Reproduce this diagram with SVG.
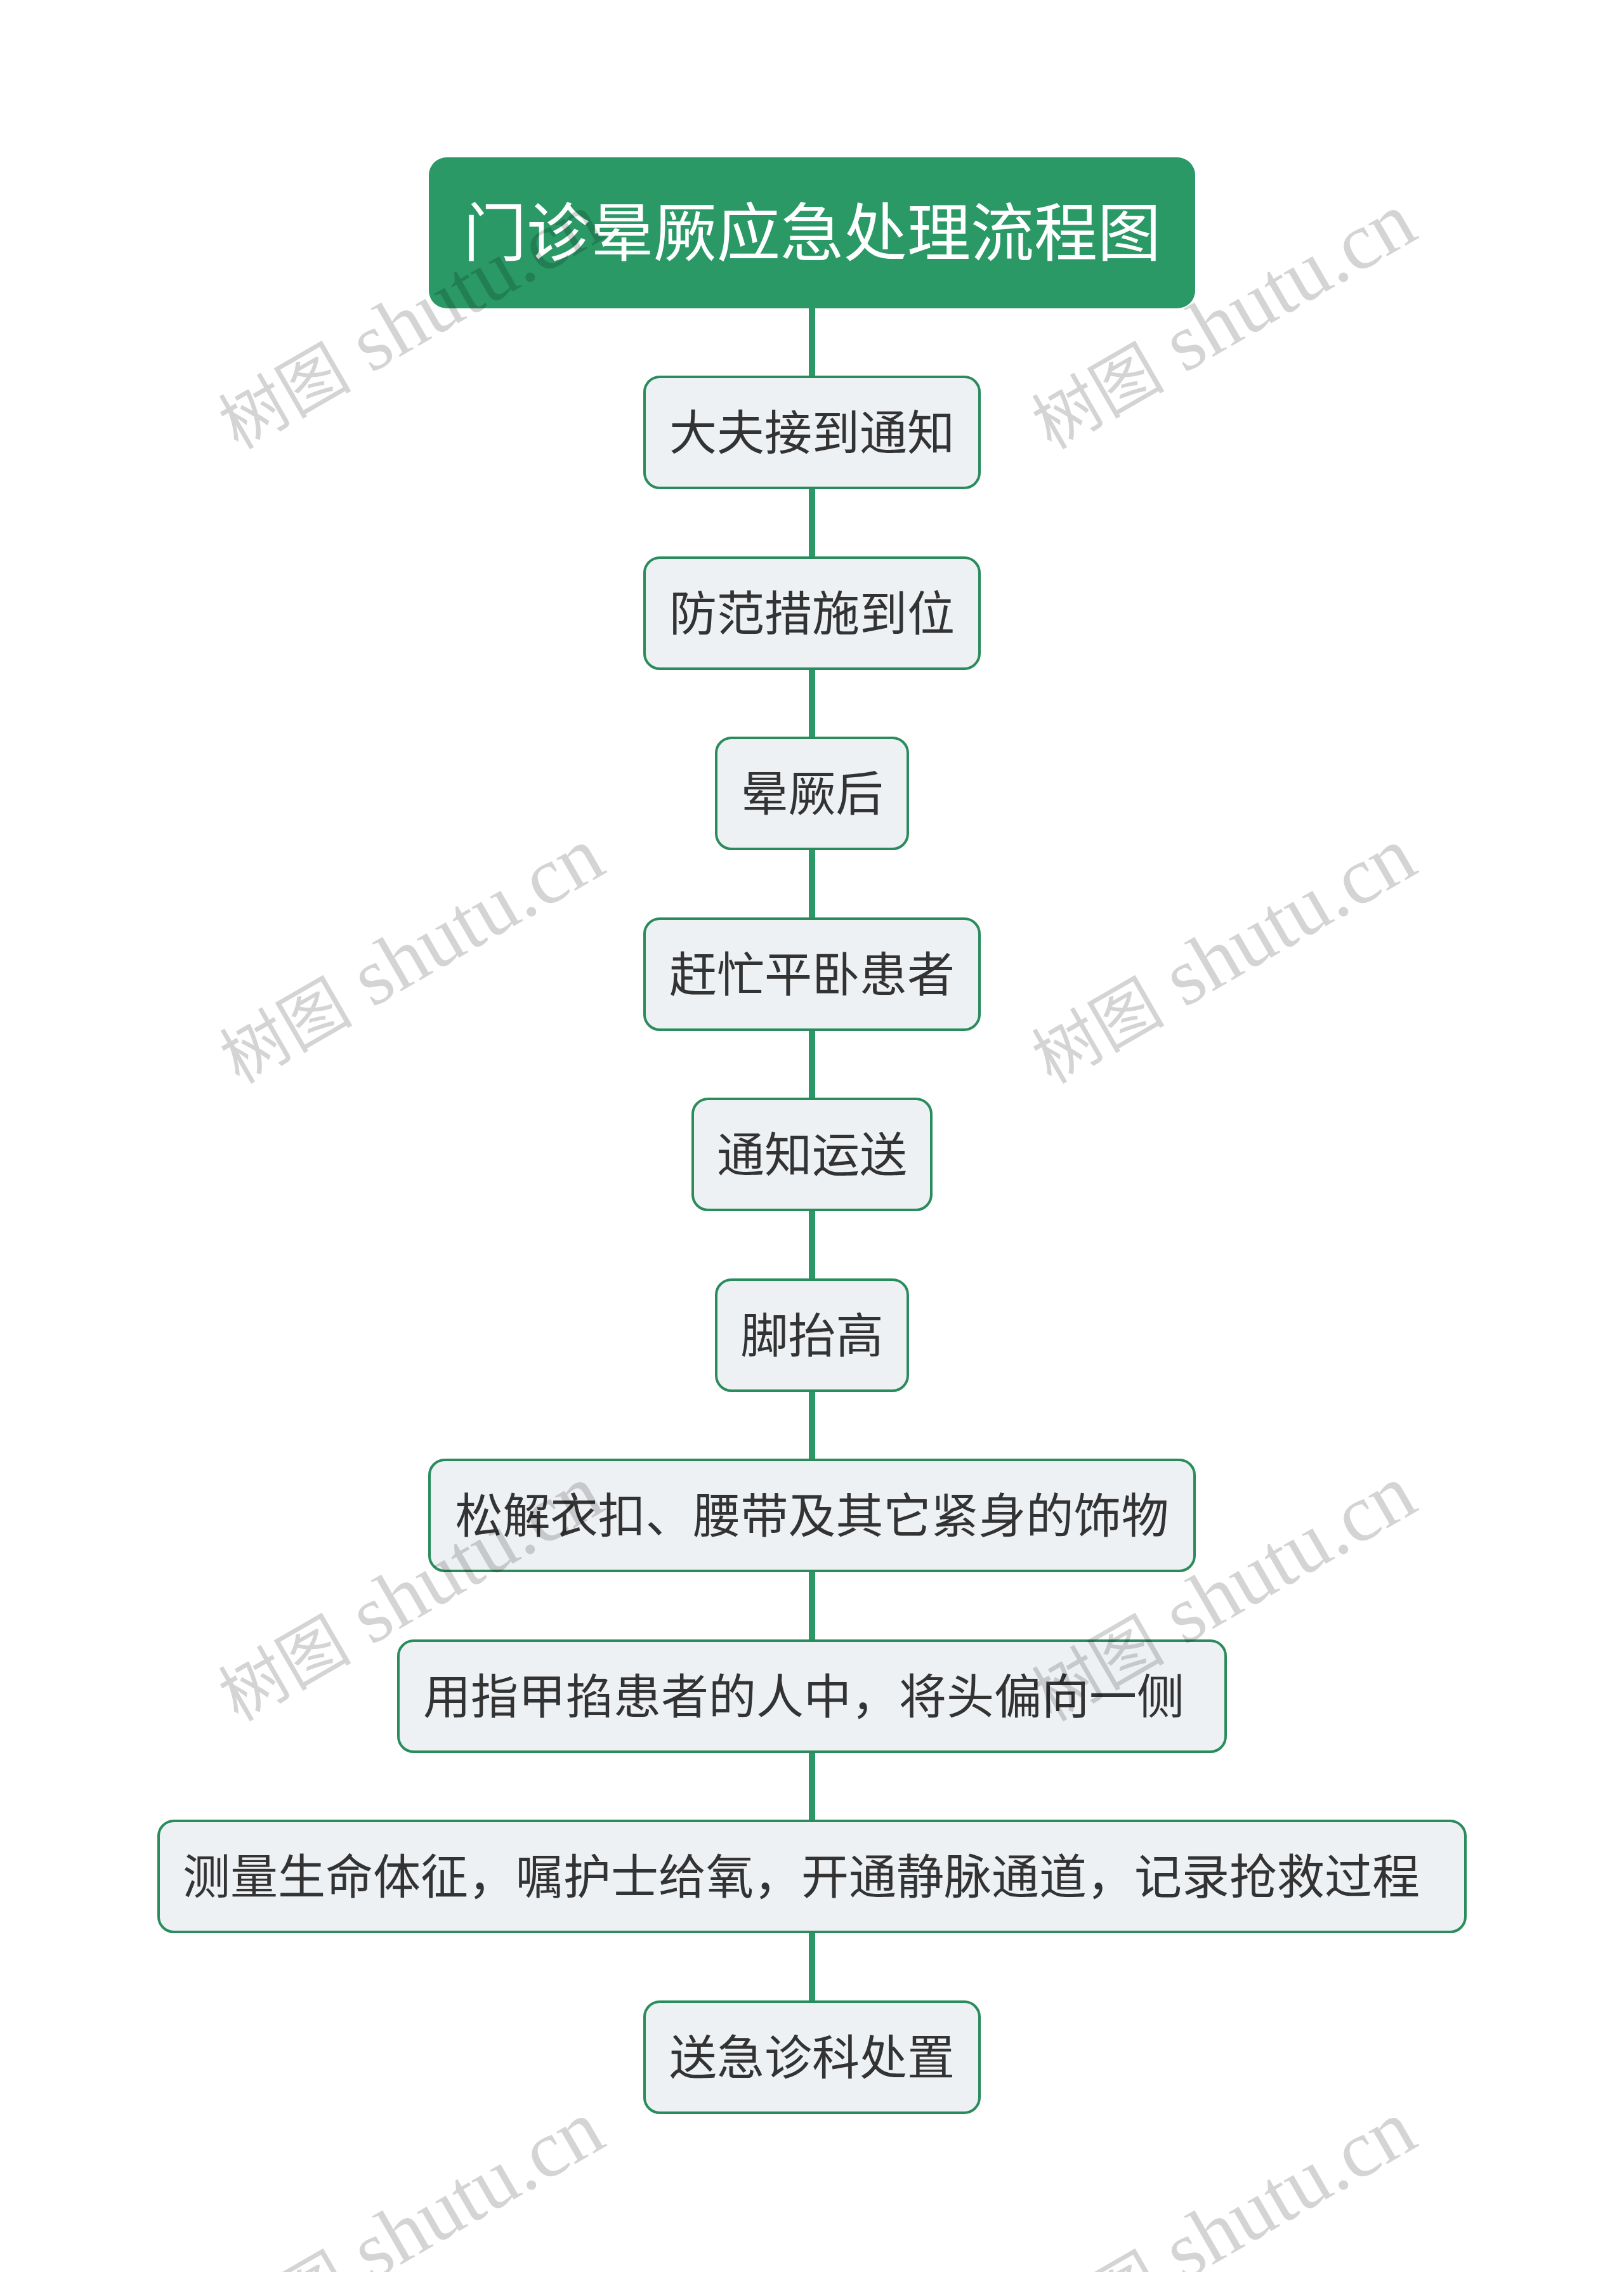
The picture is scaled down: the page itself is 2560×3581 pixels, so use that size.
<svg xmlns="http://www.w3.org/2000/svg" width="2560" height="3581" viewBox="0 0 2560 3581">
<style>
.bg{fill:#ffffff}
.title rect{fill:#2a9966}
.title text{fill:#ffffff;font-family:"Noto Sans CJK SC","Noto Sans",sans-serif;font-size:100px;text-anchor:middle}
.node rect{fill:#eef1f4;stroke:#2a8c5c;stroke-width:4}
.node text{fill:#333333;font-family:"Noto Sans CJK SC","Noto Sans",sans-serif;font-size:75px;text-anchor:middle}
.node text.l{text-anchor:start}
.conn line{stroke:#2a9966;stroke-width:10}
.wm text{fill:#000000;fill-opacity:0.17;font-family:"Liberation Serif","Noto Sans CJK SC",serif;font-size:128px;text-anchor:middle}
.wm .cjk{font-size:105px}
</style>
<rect class="bg" x="0" y="0" width="2560" height="3581"/>
<g id="connectors" class="conn">
<line x1="1280" y1="486" x2="1280" y2="594"/>
<line x1="1280" y1="769" x2="1280" y2="879"/>
<line x1="1280" y1="1054" x2="1280" y2="1163"/>
<line x1="1280" y1="1338" x2="1280" y2="1448"/>
<line x1="1280" y1="1623" x2="1280" y2="1732"/>
<line x1="1280" y1="1907" x2="1280" y2="2017"/>
<line x1="1280" y1="2192" x2="1280" y2="2301"/>
<line x1="1280" y1="2476" x2="1280" y2="2586"/>
<line x1="1280" y1="2761" x2="1280" y2="2870"/>
<line x1="1280" y1="3045" x2="1280" y2="3155"/>
</g>
<g id="n0" class="title"><rect x="676" y="248" width="1208" height="238" rx="28"/><text x="1280" y="403">门诊晕厥应急处理流程图</text></g>
<g id="n1" class="node"><rect x="1016" y="594" width="528" height="175" rx="24"/><text x="1280" y="709">大夫接到通知</text></g>
<g id="n2" class="node"><rect x="1016" y="879" width="528" height="175" rx="24"/><text x="1280" y="994">防范措施到位</text></g>
<g id="n3" class="node"><rect x="1129" y="1163" width="302" height="175" rx="24"/><text x="1280" y="1278">晕厥后</text></g>
<g id="n4" class="node"><rect x="1016" y="1448" width="528" height="175" rx="24"/><text x="1280" y="1563">赶忙平卧患者</text></g>
<g id="n5" class="node"><rect x="1092" y="1732" width="376" height="175" rx="24"/><text x="1280" y="1847">通知运送</text></g>
<g id="n6" class="node"><rect x="1129" y="2017" width="302" height="175" rx="24"/><text x="1280" y="2132">脚抬高</text></g>
<g id="n7" class="node"><rect x="677" y="2301" width="1206" height="175" rx="24"/><text x="1280" y="2416">松解衣扣、腰带及其它紧身的饰物</text></g>
<g id="n8" class="node"><rect x="628" y="2586" width="1304" height="175" rx="24"/><text class="l" x="667" y="2701">用指甲掐患者的人中，将头偏向一侧</text></g>
<g id="n9" class="node"><rect x="250" y="2870" width="2060" height="175" rx="24"/><text class="l" x="288" y="2985">测量生命体征，嘱护士给氧，开通静脉通道，记录抢救过程</text></g>
<g id="n10" class="node"><rect x="1016" y="3155" width="528" height="175" rx="24"/><text x="1280" y="3270">送急诊科处置</text></g>
<g id="watermarks" class="wm">
<text transform="translate(646,507) rotate(-30)" y="40"><tspan class="cjk">树图</tspan> shutu.cn</text>
<text transform="translate(1928,507) rotate(-30)" y="40"><tspan class="cjk">树图</tspan> shutu.cn</text>
<text transform="translate(648,1507) rotate(-30)" y="40"><tspan class="cjk">树图</tspan> shutu.cn</text>
<text transform="translate(1928,1507) rotate(-30)" y="40"><tspan class="cjk">树图</tspan> shutu.cn</text>
<text transform="translate(646,2512) rotate(-30)" y="40"><tspan class="cjk">树图</tspan> shutu.cn</text>
<text transform="translate(1928,2512) rotate(-30)" y="40"><tspan class="cjk">树图</tspan> shutu.cn</text>
<text transform="translate(648,3514) rotate(-30)" y="40"><tspan class="cjk">树图</tspan> shutu.cn</text>
<text transform="translate(1928,3514) rotate(-30)" y="40"><tspan class="cjk">树图</tspan> shutu.cn</text>
</g>
</svg>
